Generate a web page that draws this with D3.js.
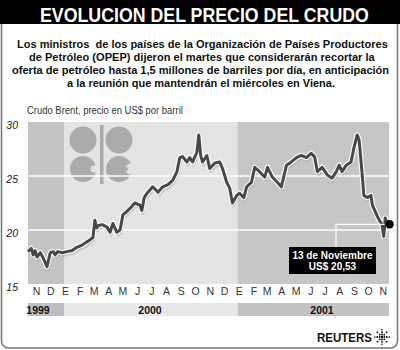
<!DOCTYPE html>
<html>
<head>
<meta charset="utf-8">
<script src="https://cdn.jsdelivr.net/npm/d3@7"></script>
<style>
  html, body { margin: 0; padding: 0; background: #fff; }
  svg { display: block; font-family: "Liberation Sans", Arial, sans-serif; }
</style>
</head>
<body>
<svg id="chart" width="400" height="350"></svg>
<script>
// Brent crude, US$ per barrel
const dates = [
  "1999-10-17","1999-10-24","1999-10-28","1999-11-01","1999-11-05","1999-11-12","1999-11-18","1999-11-26",
  "1999-12-03","1999-12-09","1999-12-13","1999-12-19","1999-12-28",
  "2000-01-07","2000-01-18","2000-01-28","2000-02-08","2000-02-18","2000-02-25","2000-03-02","2000-03-06",
  "2000-03-10","2000-03-13","2000-03-21","2000-03-31","2000-04-07","2000-04-13","2000-04-21","2000-04-28",
  "2000-05-02","2000-05-04","2000-05-12","2000-05-19","2000-05-29","2000-06-09","2000-06-13","2000-06-18",
  "2000-06-24","2000-07-06","2000-07-17","2000-07-27","2000-08-07","2000-08-17","2000-08-26","2000-09-01",
  "2000-09-07","2000-09-16","2000-09-22","2000-09-28","2000-10-07","2000-10-11","2000-10-15","2000-10-19",
  "2000-10-28","2000-11-03","2000-11-14","2000-11-24","2000-11-30","2000-12-09","2000-12-15","2000-12-21",
  "2000-12-30",
  "2001-01-05","2001-01-14","2001-01-20","2001-01-30","2001-02-06","2001-02-16","2001-02-27","2001-03-05",
  "2001-03-15","2001-03-26","2001-04-03","2001-04-14","2001-04-24","2001-05-05","2001-05-15","2001-05-26",
  "2001-06-05","2001-06-12","2001-06-18","2001-06-28","2001-07-09","2001-07-19","2001-07-28","2001-08-03",
  "2001-08-09","2001-08-18","2001-08-28","2001-09-03","2001-09-10","2001-09-14","2001-09-20","2001-09-24",
  "2001-10-01","2001-10-09","2001-10-12","2001-10-15","2001-10-22","2001-10-28","2001-11-01","2001-11-05",
  "2001-11-08","2001-11-13"
];
const prices = [
  18.0,18.3,17.7,18.1,17.5,17.9,17.4,16.6,
  17.9,18.0,17.7,18.0,17.9,
  18.0,18.1,18.4,18.6,18.9,19.1,19.3,20.9,
  20.2,20.4,20.5,20.3,19.8,20.6,19.8,20.0,
  20.9,21.4,21.7,22.0,22.5,22.3,21.8,23.0,
  23.4,24.0,23.5,24.0,24.2,24.6,25.4,26.7,
  26.8,26.3,26.7,26.3,27.2,28.8,26.9,26.3,
  26.9,25.7,26.2,26.3,25.7,24.4,23.9,22.5,
  23.2,
  23.4,23.0,24.0,24.4,25.8,25.4,24.9,25.8,
  24.9,24.4,24.0,26.0,26.3,26.7,26.9,26.7,
  27.1,26.8,25.4,25.8,25.1,24.8,25.4,26.0,
  25.4,26.0,26.3,27.6,28.8,28.3,25.4,23.2,
  23.0,23.2,22.3,22.0,21.3,20.8,20.5,19.4,
  21.1,20.53
];
const monthLabels = ["N","D","E","F","M","A","M","J","J","A","S","O","N","D","E","F","M","A","M","J","J","A","S","O","N"];
const yearLabels = ["1999","2000","2001"];
const yTicks = [15, 20, 25, 30];
const gridValues = [20, 25];
const calloutDate = "13 de Noviembre";
const calloutValue = "US$ 20,53";

const parse = d3.timeParse("%Y-%m-%d");
const series = dates.map((d, i) => ({ date: parse(d), value: prices[i] }));
const last = series[series.length - 1];

const svg = d3.select("#chart");
const W = 400, H = 350;
const plot = { left: 28, right: 389, top: 122, bottom: 284 };

const x = d3.scaleTime()
  .domain([new Date(1999, 9, 17), new Date(2001, 10, 16)])
  .range([plot.left, plot.right]);
const y = d3.scaleLinear().domain([15, 30]).range([plot.bottom, plot.top]);

// Draws a text line squeezed horizontally to a given width (narrow newspaper type)
function fittedText(parent, str, x0, y0, width, size, weight, fill) {
  const t = parent.append("text")
    .attr("x", 0).attr("y", 0)
    .attr("font-size", size).attr("font-weight", weight).attr("fill", fill)
    .style("white-space", "pre")
    .text(str);
  const natural = t.node().getComputedTextLength();
  t.attr("transform", `translate(${x0},${y0}) scale(${width / natural},1)`);
  return t;
}

// frame and title bar
svg.append("rect").attr("x", 1.5).attr("y", 1).attr("width", 396).attr("height", 347)
  .attr("rx", 7).attr("fill", "#fff").attr("stroke", "#7a7a7a").attr("stroke-width", 1.6);
svg.append("rect").attr("x", 0).attr("y", 0).attr("width", W).attr("height", 24).attr("fill", "#000");
fittedText(svg, "EVOLUCION DEL PRECIO DEL CRUDO", 40, 21.5, 329, 20, "bold", "#fff");

// intro paragraph
const para = [
  { t: "Los ministros  de los países de la Organización de Países Productores", x: 17, w: 371 },
  { t: "de Petróleo (OPEP) dijeron el martes que considerarán recortar la", x: 29, w: 346 },
  { t: "oferta de petróleo hasta 1,5 millones de barriles por día, en anticipación", x: 12, w: 377 },
  { t: "a la reunión que mantendrán el miércoles en Viena.", x: 67, w: 268 }
];
const paraG = svg.append("g");
para.forEach((d, i) => fittedText(paraG, d.t, d.x, 47.5 + i * 13, d.w, 11.6, "bold", "#111"));

fittedText(svg, "Crudo Brent, precio en US$ por barril", 27, 114, 156, 10, "normal", "#333");

// year bands behind the plot and under the month axis
const yearBounds = [x.domain()[0], new Date(2000, 0, 1), new Date(2001, 0, 1), x.domain()[1]];
const plotFills = ["#c4c4c4", "#e4e4e4", "#c6c6c6"];
const bandFills = ["#bebebe", "#e8e8e8", "#c2c2c2"];
const years = yearLabels.map((label, i) => ({ label, x0: x(yearBounds[i]), x1: x(yearBounds[i + 1]), i }));

svg.append("g").selectAll("rect").data(years).join("rect")
  .attr("x", d => d.x0).attr("y", plot.top)
  .attr("width", d => d.x1 - d.x0).attr("height", plot.bottom - plot.top)
  .attr("fill", d => plotFills[d.i]);

svg.append("g").selectAll("rect").data(years).join("rect")
  .attr("x", d => d.x0).attr("y", 303)
  .attr("width", d => d.x1 - d.x0).attr("height", 13)
  .attr("fill", d => bandFills[d.i]);

const yearTextX = [38, 150, 322];
svg.append("g").selectAll("text").data(years).join("text")
  .attr("x", d => yearTextX[d.i]).attr("y", 314)
  .attr("text-anchor", "middle").attr("font-size", 10.5).attr("font-weight", "bold")
  .attr("fill", "#111").text(d => d.label);

// OPEP emblem
const logo = svg.append("g").attr("fill", "#ababab");
logo.append("circle").attr("cx", 83).attr("cy", 140).attr("r", 13.5);
logo.append("circle").attr("cx", 119).attr("cy", 140).attr("r", 13.5);
logo.append("circle").attr("cx", 83).attr("cy", 169).attr("r", 13);
logo.append("circle").attr("cx", 119).attr("cy", 169).attr("r", 13);
logo.append("rect").attr("x", 100).attr("y", 125).attr("width", 3.5).attr("height", 59);
logo.append("circle").attr("cx", 94).attr("cy", 169).attr("r", 3.5).attr("fill", "#e4e4e4");
logo.append("rect").attr("x", 91).attr("y", 167.5).attr("width", 6).attr("height", 3).attr("fill", "#e4e4e4");
logo.append("circle").attr("cx", 131).attr("cy", 169).attr("r", 5.5).attr("fill", "#e4e4e4");
logo.append("circle").attr("cx", 126).attr("cy", 169).attr("r", 2).attr("fill", "#ababab");

// gridlines
svg.append("g").selectAll("line").data(gridValues).join("line")
  .attr("x1", plot.left).attr("x2", plot.right)
  .attr("y1", d => y(d)).attr("y2", d => y(d))
  .attr("stroke", "#fff").attr("stroke-width", 1.6);

// y axis labels
const yAxis = d3.axisLeft(y).tickValues(yTicks).tickSize(0).tickPadding(0);
const yg = svg.append("g").attr("transform", `translate(18,0)`).call(yAxis);
yg.select(".domain").remove();
yg.selectAll("text").attr("font-size", 10.5).attr("font-style", "italic")
  .attr("font-family", "Liberation Sans, Arial, sans-serif").attr("fill", "#222")
  .attr("dy", "0.6em");

// month labels
const monthStarts = d3.timeMonth.range(new Date(1999, 10, 1), new Date(2001, 10, 2));
const xAxis = d3.axisBottom(x).tickValues(monthStarts).tickSize(0).tickPadding(0)
  .tickFormat((d, i) => monthLabels[i]);
const xg = svg.append("g").attr("transform", `translate(1,288)`).call(xAxis);
xg.select(".domain").remove();
xg.selectAll("text").attr("font-size", 10.5).attr("font-family", "Liberation Sans, Arial, sans-serif")
  .attr("fill", "#333");

// price line: soft shadow, white halo, dark stroke
const line = d3.line().x(d => x(d.date)).y(d => y(d.value)).curve(d3.curveLinear);
svg.append("path").datum(series).attr("d", line).attr("fill", "none")
  .attr("transform", "translate(1,3)")
  .attr("stroke", "#9c9c9c").attr("stroke-opacity", 0.45).attr("stroke-width", 2.5)
  .attr("stroke-linejoin", "round");
svg.append("path").datum(series).attr("d", line).attr("fill", "none")
  .attr("stroke", "#fff").attr("stroke-width", 5.2).attr("stroke-linejoin", "round");
svg.append("path").datum(series).attr("d", line).attr("fill", "none")
  .attr("stroke", "#484848").attr("stroke-width", 3).attr("stroke-linejoin", "round");

// callout for the latest price
const lx = x(last.date), ly = y(last.value);
const boxX = 289, boxY = 247, boxW = 87, boxH = 27;
svg.append("path")
  .attr("d", `M${boxX + 47},${boxY} V${ly} H${lx - 3}`)
  .attr("fill", "none").attr("stroke", "#fff").attr("stroke-width", 1.2);
svg.append("circle").attr("cx", lx + 2).attr("cy", ly).attr("r", 4.2).attr("fill", "#000");
svg.append("rect").attr("x", boxX).attr("y", boxY).attr("width", boxW).attr("height", boxH).attr("fill", "#000");
svg.append("text").attr("x", boxX + boxW / 2).attr("y", boxY + 11.5).attr("text-anchor", "middle")
  .attr("font-size", 10).attr("font-weight", "bold").attr("fill", "#fff").text(calloutDate);
svg.append("text").attr("x", boxX + boxW / 2).attr("y", boxY + 23).attr("text-anchor", "middle")
  .attr("font-size", 10).attr("font-weight", "bold").attr("fill", "#fff").text(calloutValue);

// agency mark
fittedText(svg, "REUTERS", 317, 342, 55, 12, "bold", "#111");
const dots = svg.append("g").attr("fill", "#111");
[[-1, 0], [1, 0], [0, -1], [0, 1]].forEach(([dx, dy]) => {
  for (let k = 1; k <= 3; k++) {
    dots.append("circle").attr("cx", 382 + dx * k * 2.4).attr("cy", 337 + dy * k * 2.4).attr("r", 1.1 - k * 0.1);
  }
});
[[-1, -1], [1, -1], [-1, 1], [1, 1]].forEach(([dx, dy]) => {
  for (let k = 1; k <= 2; k++) {
    dots.append("circle").attr("cx", 382 + dx * k * 2.3).attr("cy", 337 + dy * k * 2.3).attr("r", 0.9);
  }
});
dots.append("circle").attr("cx", 382).attr("cy", 337).attr("r", 1.2);
</script>
</body>
</html>
